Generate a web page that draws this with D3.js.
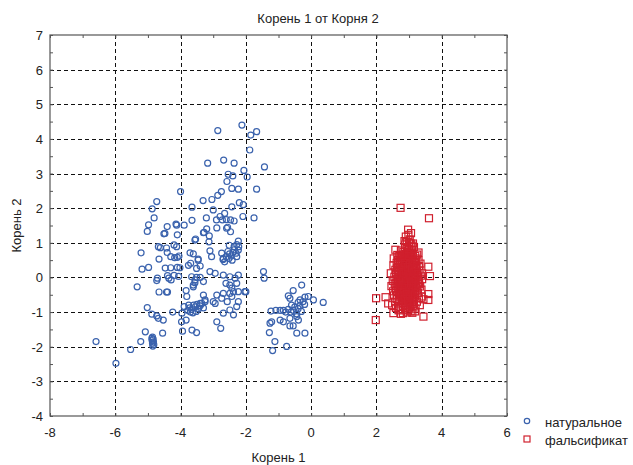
<!DOCTYPE html>
<meta charset="utf-8">
<style>
body { margin: 0; background: #fff; }
text { font-family: "Liberation Sans", Arial, sans-serif; fill: #222; }
.grid line { stroke: #111; stroke-width: 1; stroke-dasharray: 4,3; shape-rendering: crispEdges; }
.frame { fill: none; stroke: #555; stroke-width: 1.2; }
.nat { fill: none; stroke: #3a62ad; stroke-width: 1.2; }
.fal { fill: none; stroke: #d0202e; stroke-width: 1.2; }
</style>
<body>
<script src="https://cdn.jsdelivr.net/npm/d3@7"></script>
<script>

var title = "Корень 1 от Корня 2",
    xLabel = "Корень 1",
    yLabel = "Корень 2",
    seriesNames = ["натуральное", "фальсификат"];

var xTicks = [-8, -6, -4, -2, 0, 2, 4, 6];
var yTicks = [-4, -3, -2, -1, 0, 1, 2, 3, 4, 5, 6, 7];

// натуральное
var natural = [
  [-2.86,4.24],[-2.12,4.40],[-1.85,4.11],[-1.67,4.21],[-1.88,3.68],
  [-3.17,3.30],[-2.68,3.39],[-2.36,3.30],[-1.43,3.19],[-2.06,3.09],
  [-2.54,2.98],[-2.40,2.93],[-1.96,2.90],[-2.58,2.77],[-2.43,2.57],
  [-2.23,2.55],[-1.67,2.55],[-2.75,2.48],[-2.86,2.37],[-4.00,2.48],
  [-3.04,2.25],[-3.31,2.22],[-4.73,2.19],[-4.87,1.98],[-3.65,2.03],
  [-3.00,1.95],[-2.43,2.04],[-2.20,2.16],[-2.08,2.10],[-2.65,1.85],
  [-2.09,1.76],[-1.75,1.72],[-3.21,1.72],[-4.81,1.72],[-4.98,1.52],
  [-5.02,1.33],[-3.65,1.65],[-2.90,1.66],[-2.79,1.76],
  [-2.72,1.66],[-2.60,1.67],[-2.47,1.66],[-2.36,1.63],
  [-3.20,1.40],[-2.89,1.43],[-2.59,1.42],[-4.12,1.51],[-3.89,1.51],
  [-4.41,1.47],[-4.51,1.26],[-4.10,1.23],[-3.54,1.11],[-3.30,1.29],[-3.12,1.20],
  [-2.56,1.45],[-2.47,1.32],[-3.28,1.30],[-3.13,1.03],[-2.51,0.93],
  [-2.36,0.89],[-2.23,1.05],[-2.22,0.89],
  [-4.48,1.27],[-4.14,1.54],[-3.56,1.08],
  [-4.68,0.89],[-4.62,0.86],[-5.21,0.71],[-4.43,0.85],[-4.41,0.72],[-4.20,0.94],[-4.12,0.89],
  [-4.30,0.60],[-4.18,0.57],[-4.10,0.58],[-4.05,0.62],[-4.66,0.53],[-3.61,0.68],[-3.46,0.53],[-3.69,0.41],
  [-5.18,0.24],[-4.98,0.29],[-4.47,0.27],[-4.30,0.28],[-4.10,0.29],[-4.02,0.28],[-3.76,0.35],[-3.51,0.26],
  [-4.40,0.05],[-4.20,0.06],[-4.06,0.03],[-4.71,-0.02],
  [-5.33,-0.27],[-4.73,-0.09],[-4.36,-0.02],[-4.29,-0.07],
  [-4.66,-0.42],[-4.43,-0.42],[-4.40,-0.42],[-3.83,-0.38],[-3.81,-0.55],[-3.61,-0.27],[-3.56,-0.15],
  [-5.02,-0.87],[-4.88,-1.06],[-4.73,-1.11],[-4.68,-1.18],[-4.53,-1.23],[-4.24,-1.00],[-3.96,-1.03],[-3.89,-0.84],[-3.83,-1.23],
  [-3.78,-0.95],[-3.72,-0.88],[-3.66,-0.92],[-3.60,-0.80],[-3.55,-0.85],[-3.50,-0.78],[-3.45,-0.90],
  [-3.70,-1.00],[-3.62,-1.02],[-3.40,-0.82],[-3.35,-0.75],[-3.75,-0.80],[-3.52,-0.98],[-3.30,-0.88],[-3.25,-0.70],
  [-3.97,-1.28],[-3.94,-1.55],[-3.65,-1.52],[-3.51,-1.59],[-5.08,-1.57],[-4.55,-1.61],[-5.22,-1.85],
  [-4.86,-1.72],[-4.84,-1.78],[-4.87,-1.82],[-4.83,-1.86],[-4.86,-1.90],[-4.82,-1.94],[-4.88,-1.76],[-4.85,-1.98],
  [-5.53,-2.08],[-6.59,-1.85],[-5.98,-2.48],
  [-1.46,0.17],[-1.44,-0.02],[-0.29,-0.22],[-0.55,-0.38],[-0.70,-0.53],[-0.65,-0.60],
  [-0.19,-0.57],[-0.09,-0.55],[0.07,-0.65],[0.37,-0.72],
  [-0.34,-0.65],[-0.25,-0.70],[-0.40,-0.72],[-0.20,-0.78],
  [-0.95,-0.95],[-0.85,-0.95],[-0.78,-1.00],[-0.70,-0.92],[-0.62,-1.00],[-0.55,-0.95],
  [-0.45,-1.05],[-0.40,-0.90],[-0.30,-0.98],[-0.50,-0.85],[-0.60,-0.80],[-0.35,-0.82],
  [-1.21,-1.28],[-1.26,-1.32],[-1.23,-0.97],[-1.08,-0.95],
  [-0.95,-1.23],[-0.85,-1.28],[-0.65,-1.18],[-0.44,-1.13],[-0.39,-1.23],[-0.65,-1.40],[-0.55,-1.40],
  [-0.44,-1.61],[-0.19,-1.61],
  [-1.28,-1.59],[-1.11,-1.85],[-0.75,-1.99],[-1.18,-2.11],
  [-2.89,-1.28],[-2.77,-1.47],
  [-2.69,-1.03],[-2.38,-1.08],[-2.49,-0.94],[-2.28,-0.84],[-2.23,-0.70],[-2.43,-0.55],[-2.57,-0.70],
  [-2.00,-0.41],[-2.23,-0.41],[-2.38,-0.41],[-2.49,-0.46],[-2.43,-0.31],[-2.69,-0.46],[-2.74,-0.60],
  [-2.89,-0.51],[-3.00,-0.70],[-2.94,-0.75],[-3.30,-0.51],[-3.25,-0.65],[-3.40,-0.75],[-2.03,-0.41],
  [-3.10,0.17],[-2.94,0.12],[-2.69,0.07],[-2.49,0.02],[-2.33,-0.02],[-2.23,0.07],
  [-3.61,-0.22],[-3.56,-0.07],[-3.30,-0.12],[-2.49,-0.22],[-2.28,-0.17],[-2.61,-0.17],
  [-2.55,0.75],[-2.50,0.68],[-2.45,0.62],[-2.40,0.72],[-2.35,0.80],[-2.30,0.70],
  [-2.60,0.60],[-2.52,0.55],[-2.42,0.50],[-2.65,0.45],[-2.70,0.52],[-2.28,0.95],
  [-3.10,0.77],[-3.05,0.60],[-3.71,0.71],[-3.46,0.50],[-3.40,0.33],
  [-2.74,0.70],[-2.69,0.55],[-2.28,0.60],[-2.23,0.79],
  [-3.66,0.02],[-3.51,0.00],[-3.40,0.00]
];

// фальсификат
var fake = [
  [2.74,2.01],[3.61,1.71],[1.98,-1.23],[3.44,-1.13],
  [2.98,1.23],[2.93,1.02],[3.02,1.10],[2.88,0.95],[3.05,0.98],
  [2.83,0.74],[3.29,0.72],[2.95,0.85],[3.10,0.80],[2.75,0.78],[3.02,0.70],[3.15,0.88],[2.90,0.68],
  [2.70,0.62],[2.80,0.55],[2.88,0.60],[2.97,0.52],[3.05,0.58],[3.12,0.64],[3.20,0.55],[2.66,0.50],[3.25,0.66],[2.92,0.66],
  [2.62,0.42],[2.72,0.35],[2.78,0.45],[2.85,0.38],[2.93,0.44],[3.00,0.32],[3.08,0.41],[3.16,0.36],
  [3.22,0.46],[3.30,0.33],[3.59,0.31],[2.68,0.30],[2.95,0.48],[3.12,0.30],
  [2.58,0.22],[2.65,0.15],[2.74,0.26],[2.80,0.12],[2.86,0.20],[2.92,0.27],[2.98,0.14],[3.04,0.22],
  [3.10,0.10],[3.16,0.24],[3.24,0.16],[3.32,0.20],[3.40,0.12],[2.70,0.18],[2.95,0.05],[3.05,0.28],
  [2.55,0.02],[2.62,-0.05],[2.70,0.08],[2.76,-0.02],[2.82,0.04],[2.88,-0.08],[2.94,0.00],[3.00,-0.06],
  [3.06,0.06],[3.12,-0.03],[3.18,0.03],[3.26,-0.08],[3.40,-0.05],[3.64,0.04],[2.66,-0.09],[2.90,0.09],
  [3.03,-0.10],[3.22,0.08],
  [2.56,-0.18],[2.64,-0.25],[2.72,-0.14],[2.78,-0.28],[2.84,-0.20],[2.90,-0.12],[2.96,-0.26],[3.02,-0.17],
  [3.08,-0.29],[3.14,-0.15],[3.20,-0.22],[3.28,-0.18],[2.68,-0.20],[2.87,-0.30],[3.00,-0.24],[3.34,-0.26],
  [2.60,-0.38],[2.68,-0.45],[2.75,-0.34],[2.82,-0.42],[2.88,-0.48],[2.94,-0.36],[3.00,-0.44],[3.06,-0.33],
  [3.12,-0.47],[3.18,-0.40],[3.25,-0.35],[3.59,-0.48],[2.72,-0.50],[2.98,-0.50],
  [1.99,-0.60],[2.28,-0.57],[2.62,-0.62],[2.70,-0.55],[2.78,-0.68],[2.84,-0.58],[2.90,-0.65],[2.97,-0.55],
  [3.03,-0.62],[3.10,-0.70],[3.16,-0.58],[3.39,-0.55],[3.44,-0.63],[3.59,-0.65],[3.30,-0.60],
  [2.36,-0.75],[2.48,-0.80],[2.66,-0.78],[2.74,-0.85],[2.82,-0.74],[2.88,-0.88],[2.95,-0.78],[3.02,-0.86],
  [3.08,-0.76],[3.14,-0.84],[3.20,-0.90],[2.60,-0.88],
  [2.52,-1.03],[2.68,-0.95],[2.81,-1.03],[2.93,-1.01],[3.05,-0.98],[2.75,-1.05],[3.10,-1.02],[2.98,-0.93],
  [2.73,0.48],[2.83,0.30],[2.91,0.36],[3.01,0.45],[3.09,0.52],[3.18,0.44],[2.77,0.10],[2.84,0.28],
  [2.97,0.22],[3.07,0.15],[3.14,0.08],[2.73,-0.08],[2.80,-0.15],[2.86,-0.04],[2.92,-0.20],[3.05,-0.12],
  [3.10,-0.22],[3.17,-0.10],[2.76,-0.40],[2.85,-0.35],[2.92,-0.42],[3.04,-0.38],[3.09,-0.55],[2.81,-0.52],
  [2.93,-0.58],[3.00,-0.70],[2.87,-0.72],[3.12,-0.64],[2.70,-0.66],[2.96,0.58],[3.04,0.66],[2.86,0.50],
  [3.00,0.82],[2.88,0.88],[3.08,0.92],[2.78,0.64],[3.21,0.28],[3.27,0.02],[3.30,-0.12],[2.60,0.10],
  [2.58,-0.30],[2.66,0.38],[3.35,0.40],[3.38,-0.35],[2.54,-0.52],
  [2.52,0.35],[2.50,-0.10],[2.51,-0.40],[2.53,0.55],[2.57,-0.70],[2.64,0.65],[2.63,0.28],[2.61,-0.15],
  [2.63,-0.52],[2.67,-0.35],[2.69,0.00],[2.71,0.42],[2.71,-0.30],[2.74,0.58],[2.76,0.20],[2.77,-0.22],
  [2.79,-0.60],[2.79,0.36],[2.81,-0.05],[2.83,-0.45],[2.83,0.66],[2.85,0.12],[2.86,-0.62],[2.87,0.42],
  [2.89,-0.25],[2.91,0.18],[2.91,-0.80],[2.93,-0.48],[2.94,0.74],[2.95,-0.10],[2.96,0.30],[2.97,-0.68],
  [2.99,0.62],[2.99,-0.32],[3.01,0.08],[3.02,-0.52],[3.03,0.38],[3.04,-0.80],[3.06,-0.20],[3.07,0.72],
  [3.08,-0.42],[3.09,0.25],[3.11,-0.60],[3.11,0.00],[3.13,0.48],[3.13,-0.32],[3.15,-0.75],[3.16,0.16],
  [3.18,-0.50],[3.19,0.62],[3.20,-0.05],[3.22,-0.30],[3.23,0.35],[3.24,-0.70],[3.26,0.10],[3.27,-0.45],
  [3.29,0.50],[3.31,-0.20],[3.33,-0.80],[3.36,0.05],[2.46,-0.25],[2.44,0.12],[2.58,0.80],[2.68,-0.92],
  [2.92,-0.95],[3.18,-0.98],[3.00,1.00],[2.86,1.05],[3.12,0.98],[2.90,1.18],[3.06,1.28],[2.97,1.38]
];

var width = 633, height = 465;
var plot = {left: 50, right: 507, top: 35, bottom: 416};

var x = d3.scaleLinear().domain([-8, 6]).range([plot.left, plot.right]);
var y = d3.scaleLinear().domain([-4, 7]).range([plot.bottom, plot.top]);

var svg = d3.select("body").append("svg")
    .attr("width", width)
    .attr("height", height);

// grid
var grid = svg.append("g").attr("class", "grid");
grid.selectAll(".gx")
    .data(xTicks.slice(1, -1))
  .enter().append("line")
    .attr("x1", function(d) { return Math.round(x(d)) + 0.5; })
    .attr("x2", function(d) { return Math.round(x(d)) + 0.5; })
    .attr("y1", plot.top)
    .attr("y2", plot.bottom);
grid.selectAll(".gy")
    .data(yTicks.slice(1, -1))
  .enter().append("line")
    .attr("y1", function(d) { return Math.round(y(d)) + 0.5; })
    .attr("y2", function(d) { return Math.round(y(d)) + 0.5; })
    .attr("x1", plot.left)
    .attr("x2", plot.right);

// frame with inward ticks on all four sides
var xt = d3.range(-8, 6.01, 1), yt = d3.range(-4, 7.01, 0.5);
var axes = [
  {axis: d3.axisBottom(x).tickValues(xt), t: "translate(0," + plot.bottom + ")"},
  {axis: d3.axisTop(x).tickValues(xt), t: "translate(0," + plot.top + ")"},
  {axis: d3.axisLeft(y).tickValues(yt), t: "translate(" + plot.left + ",0)"},
  {axis: d3.axisRight(y).tickValues(yt), t: "translate(" + plot.right + ",0)"}
];
axes.forEach(function(a) {
  var g = svg.append("g")
      .attr("transform", a.t)
      .call(a.axis.tickSizeInner(-3).tickSizeOuter(0).tickFormat(""));
  g.select(".domain").remove();
  g.selectAll("line").attr("stroke", "#555");
});

svg.append("rect")
    .attr("class", "frame")
    .attr("x", plot.left)
    .attr("y", plot.top)
    .attr("width", plot.right - plot.left)
    .attr("height", plot.bottom - plot.top);

// tick labels
svg.selectAll(".xl")
    .data(xTicks)
  .enter().append("text")
    .attr("x", function(d) { return x(d); })
    .attr("y", plot.bottom + 21)
    .attr("text-anchor", "middle")
    .style("font-size", "13px")
    .text(function(d) { return d; });

svg.selectAll(".yl")
    .data(yTicks)
  .enter().append("text")
    .attr("x", plot.left - 7)
    .attr("y", function(d) { return y(d) + 5; })
    .attr("text-anchor", "end")
    .style("font-size", "13px")
    .text(function(d) { return d; });

// points
svg.append("g").selectAll("circle")
    .data(natural)
  .enter().append("circle")
    .attr("class", "nat")
    .attr("cx", function(d) { return x(d[0]); })
    .attr("cy", function(d) { return y(d[1]); })
    .attr("r", 3);

svg.append("g").selectAll("rect")
    .data(fake)
  .enter().append("rect")
    .attr("class", "fal")
    .attr("x", function(d) { return x(d[0]) - 3.5; })
    .attr("y", function(d) { return y(d[1]) - 3.5; })
    .attr("width", 7)
    .attr("height", 7);

// titles
svg.append("text")
    .attr("x", 318)
    .attr("y", 23)
    .attr("text-anchor", "middle")
    .style("font-size", "13px")
    .text(title);

svg.append("text")
    .attr("x", (plot.left + plot.right) / 2)
    .attr("y", 462)
    .attr("text-anchor", "middle")
    .style("font-size", "13px")
    .text(xLabel);

svg.append("text")
    .attr("transform", "translate(21," + (plot.top + plot.bottom) / 2 + ") rotate(-90)")
    .attr("text-anchor", "middle")
    .style("font-size", "13px")
    .text(yLabel);

// legend
var leg = svg.append("g");
leg.append("circle").attr("class", "nat").attr("cx", 527).attr("cy", 421).attr("r", 2.7);
leg.append("rect").attr("class", "fal").attr("x", 524).attr("y", 436).attr("width", 6).attr("height", 6);
leg.selectAll(".lt")
    .data(seriesNames)
  .enter().append("text")
    .attr("x", 545)
    .attr("y", function(d, i) { return 427 + i * 17.5; })
    .style("font-size", "13px")
    .text(function(d) { return d; });

</script>
</body>
